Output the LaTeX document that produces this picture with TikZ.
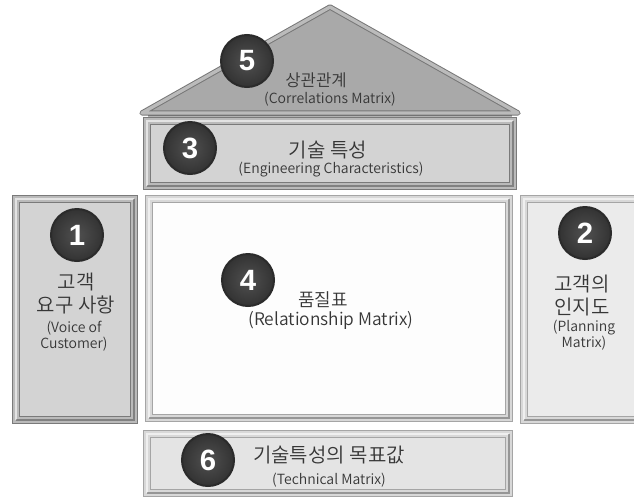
\documentclass[tikz,border=0pt]{standalone}
\usepackage{fontspec}
\setmainfont{Noto Sans CJK KR}[UprightFont=* DemiLight]
\newfontfamily\numfont{Liberation Sans}
\usepackage{tikz}

\definecolor{roofGray}{HTML}{A9A9A9}
\definecolor{roofLine}{HTML}{777777}
\definecolor{roofBevel}{HTML}{BBBBBB}
\definecolor{lineDk}{HTML}{7A7A7A}
\definecolor{bevelDk}{HTML}{BABABA}
\definecolor{lineLt}{HTML}{A5A5A5}
\definecolor{bevelLt}{HTML}{D8D8D8}
\definecolor{fillA}{HTML}{D3D3D3}
\definecolor{fillB}{HTML}{EBEBEB}
\definecolor{fillC}{HTML}{E4E4E4}
\definecolor{fillW}{HTML}{FDFDFD}
\definecolor{ballRim}{HTML}{2B2B2B}
\definecolor{ballIn}{HTML}{505050}
\definecolor{ballOut}{HTML}{333333}
\definecolor{txt}{HTML}{363636}

\begin{document}
\begin{tikzpicture}[x=0.75pt,y=-0.75pt,
	box/.style n args={3}{draw=#1, double=#2, fill=#3, double distance=4.5pt,
		line width=0.75pt, inner sep=0pt, outer sep=0pt},
	rimlt/.style={draw=white, opacity=0.6, line width=1.5pt},
	rimdk/.style={draw=black, opacity=0.3, line width=2pt},
	roof/.style={fill=roofGray, draw=roofLine, double=roofBevel, double distance=2.5pt,
		line width=0.75pt, line join=round},
	ball/.style={circle, draw=ballRim, line width=1.5pt, inner color=ballIn, outer color=ballOut,
		minimum size=39pt, inner sep=0pt, text=white,
		font=\numfont\bfseries\fontsize{22}{22}\selectfont},
	ko/.style={text=txt, align=center, font=\fontsize{15}{17.25}\selectfont},
	en/.style={text=txt, align=center, font=\fontsize{10.5}{12}\selectfont}]
		\clip (0,0) rectangle (634,500);
		\fill[white] (0,0) rectangle (634,500);
		%
		% roof
		\coordinate (apex) at (330,7);
		\coordinate (roofL) at (142,113);
		\coordinate (roofR) at (518,113);
		\draw[roof] (roofL) -- (apex) -- (roofR) -- cycle;
		\draw[rimdk] ([shift={(6,3)}]roofL) -- ([shift={(-6,3)}]roofR);
		%
		% boxes
		\node[box={lineDk}{bevelDk}{fillA}, minimum width=274.5pt, minimum height=48.75pt] (eng) at (330,153.5) {};
		\node[box={lineDk}{bevelDk}{fillA}, minimum width=88.5pt, minimum height=165.75pt] (voc) at (75,309.5) {};
		\node[box={lineLt}{bevelLt}{fillW}, minimum width=270pt, minimum height=164.25pt] (rel) at (329,308.5) {};
		\node[box={lineLt}{bevelLt}{fillB}, minimum width=91.5pt, minimum height=165.75pt] (plan) at (585,309.5) {};
		\node[box={lineLt}{bevelLt}{fillC}, minimum width=271.5pt, minimum height=44.25pt] (tech) at (328,463.5) {};
		%
		\foreach \b in {eng,voc,rel,plan,tech}{
			\draw[rimlt] (\b.south west) -- (\b.north west) -- (\b.north east);
			\draw[rimdk] (\b.north east) -- (\b.south east) -- (\b.south west);
		}
		%
		% numbers
		\node[ball] (n1) at (77,235) {1};
		\node[ball] (n2) at (585,233) {2};
		\node[ball] (n3) at (190,148) {3};
		\node[ball] (n4) at (248,280) {4};
		\node[ball] (n5) at (247,61) {5};
		\node[ball] (n6) at (208,460) {6};
		%
		% labels
		\node[ko, font=\fontsize{12.5}{14}\selectfont] (roof-ko) at (316,80) {상관관계};
		\node[en] (roof-en) at (330,99) {(Correlations Matrix)};
		\node[ko] (eng-ko) at (328,150) {기술 특성};
		\node[en] (eng-en) at (331,170) {(Engineering Characteristics)};
		\node[ko] (voc-ko) at (76,293.5) {고객\\요구 사항};
		\node[en] (voc-en) at (74,336) {(Voice of\\Customer)};
		\node[ko, font=\fontsize{13.5}{15}\selectfont] (rel-ko) at (323,300) {품질표};
		\node[en, font=\fontsize{13}{15}\selectfont] (rel-en) at (331,320) {(Relationship Matrix)};
		\node[ko] (plan-ko) at (582,296) {고객의\\인지도};
		\node[en] (plan-en) at (584,335) {(Planning\\Matrix)};
		\node[ko] (tech-ko) at (329,455) {기술특성의 목표값};
		\node[en] (tech-en) at (329,480) {(Technical Matrix)};
	\end{tikzpicture}
\end{document}
